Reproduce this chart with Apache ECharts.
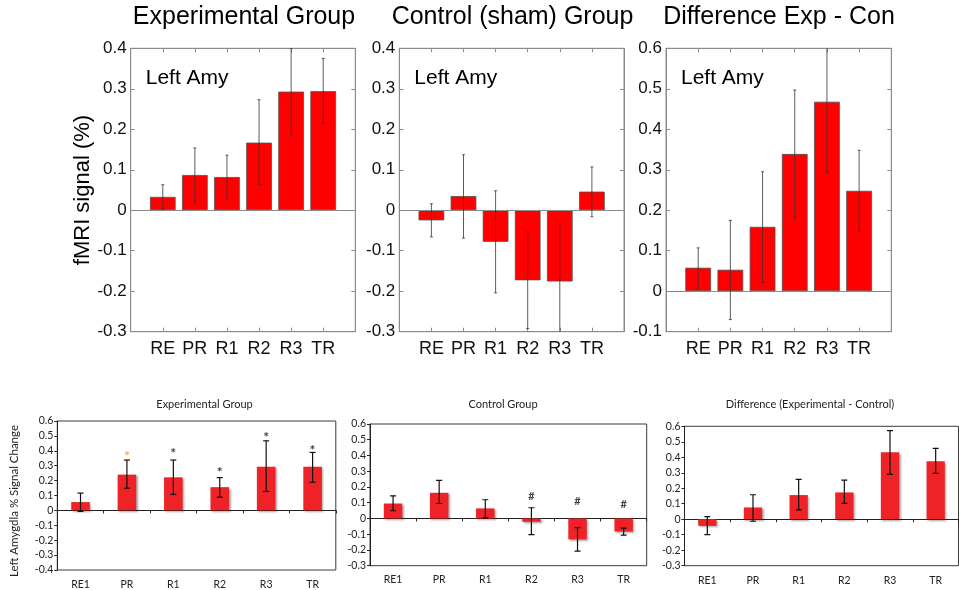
<!DOCTYPE html>
<html><head><meta charset="utf-8">
<script src="https://cdn.jsdelivr.net/npm/echarts@6/dist/echarts.min.js"></script>
<style>html,body{margin:0;padding:0;background:#fff}#c{width:959px;height:590px}</style>
</head><body><div id="c"></div>
<script>
// ---------- data ----------
const topCats = ['RE', 'PR', 'R1', 'R2', 'R3', 'TR'];
const botCats = ['RE1', 'PR', 'R1', 'R2', 'R3', 'TR'];

const topTitles = ['Experimental Group', 'Control (sham) Group', 'Difference Exp - Con'];
const topRegionLabel = 'Left Amy';
const topYName = 'fMRI signal (%)';

const topExpMean = [0.033, 0.087, 0.082, 0.167, 0.293, 0.294];
const topExpLow  = [0.003, 0.021, 0.028, 0.064, 0.186, 0.214];
const topExpHigh = [0.063, 0.154, 0.136, 0.273, 0.400, 0.375];

const topConMean = [-0.025, 0.035, -0.078, -0.173, -0.176, 0.046];
const topConLow  = [-0.066, -0.069, -0.204, -0.292, -0.310, -0.016];
const topConHigh = [0.016, 0.137, 0.048, -0.053, -0.037, 0.107];

const topDiffMean = [0.058, 0.053, 0.159, 0.339, 0.468, 0.248];
const topDiffLow  = [0.007, -0.070, 0.022, 0.182, 0.293, 0.148];
const topDiffHigh = [0.107, 0.175, 0.295, 0.497, 0.620, 0.348];

const botTitles = ['Experimental Group', 'Control Group', 'Difference (Experimental - Control)'];
const botYName = 'Left Amygdla % Signal Change';

const botExpMean = [0.056, 0.240, 0.222, 0.156, 0.293, 0.293];
const botExpLow  = [-0.007, 0.149, 0.107, 0.089, 0.127, 0.189];
const botExpHigh = [0.116, 0.338, 0.338, 0.220, 0.467, 0.389];
const botExpMarkY = [null, 0.384, 0.404, 0.273, 0.511, 0.420];
const botExpMarkText = ['', '*', '*', '*', '*', '*'];

const botConMean = [0.095, 0.163, 0.064, -0.021, -0.133, -0.083];
const botConLow  = [0.049, 0.095, 0.004, -0.102, -0.208, -0.106];
const botConHigh = [0.144, 0.242, 0.119, 0.068, -0.059, -0.061];
const botConMarkY = [null, null, null, 0.138, 0.106, 0.089];
const botConMarkText = ['', '', '', '#', '#', '#'];

const botDiffMean = [-0.043, 0.076, 0.156, 0.173, 0.432, 0.374];
const botDiffLow  = [-0.099, -0.013, 0.060, 0.102, 0.289, 0.296];
const botDiffHigh = [0.017, 0.158, 0.257, 0.253, 0.572, 0.458];

// ---------- styling / layout ----------
const TOP_FONT = '"Liberation Sans", Arial, sans-serif';
const BOT_FONT = 'Lato, "Open Sans", sans-serif';
const ORANGE_MARK_INDEX = 1; // PR star is orange in the experimental panel

const topPanels = [
  { mean: topExpMean, low: topExpLow, high: topExpHigh, min: -0.3, max: 0.4,
    grid: { left: 130.7, top: 48.3, width: 224.6, height: 283.4 }, titleX: 244 },
  { mean: topConMean, low: topConLow, high: topConHigh, min: -0.3, max: 0.4,
    grid: { left: 399.3, top: 48.3, width: 224.7, height: 283.4 }, titleX: 512.5 },
  { mean: topDiffMean, low: topDiffLow, high: topDiffHigh, min: -0.1, max: 0.6,
    grid: { left: 666, top: 48.3, width: 225.3, height: 283.4 }, titleX: 779 }
];
const botPanels = [
  { mean: botExpMean, low: botExpLow, high: botExpHigh, markY: botExpMarkY, markText: botExpMarkText,
    min: -0.4, max: 0.6, grid: { left: 57.3, top: 421, width: 278.5, height: 151 }, titleX: 204.5, labMargin: 9 },
  { mean: botConMean, low: botConLow, high: botConHigh, markY: botConMarkY, markText: botConMarkText,
    min: -0.3, max: 0.6, grid: { left: 370, top: 424, width: 276.7, height: 141.7 }, titleX: 503, labMargin: 8 },
  { mean: botDiffMean, low: botDiffLow, high: botDiffHigh, markY: null, markText: null,
    min: -0.3, max: 0.6, grid: { left: 684.5, top: 426.3, width: 274, height: 139.4 }, titleX: 810, labMargin: 9 }
];

function errRender(color, lw, capHW) {
  return function (params, api) {
    const x = api.value(0), lo = api.value(1), hi = api.value(2);
    const p1 = api.coord([x, lo]);
    const p2 = api.coord([x, hi]);
    const st = { stroke: color, lineWidth: lw };
    return {
      type: 'group', children: [
        { type: 'line', shape: { x1: p1[0], y1: p1[1], x2: p2[0], y2: p2[1] }, style: st },
        { type: 'line', shape: { x1: p1[0] - capHW, y1: p1[1], x2: p1[0] + capHW, y2: p1[1] }, style: st },
        { type: 'line', shape: { x1: p2[0] - capHW, y1: p2[1], x2: p2[0] + capHW, y2: p2[1] }, style: st }
      ]
    };
  };
}

const grids = [], xAxes = [], yAxes = [], series = [], graphics = [];
let xi = 0, yi = 0;

topPanels.forEach((p, g) => {
  grids.push(Object.assign({ show: true, borderColor: '#8a8a8a', borderWidth: 1, backgroundColor: 'transparent' }, p.grid));
  const padded = [''].concat(topCats, ['']);
  const xb = xi++;
  xAxes.push({ gridIndex: g, type: 'category', data: padded, boundaryGap: false, position: 'bottom',
    axisLine: { onZero: false, lineStyle: { color: '#8a8a8a' } },
    axisTick: { inside: true, length: 4, interval: 0, lineStyle: { color: '#8a8a8a' } },
    axisLabel: { interval: 0, margin: 8, fontSize: 18, color: '#111', fontFamily: TOP_FONT },
    splitLine: { show: false } });
  xi++;
  xAxes.push({ gridIndex: g, type: 'category', data: padded, boundaryGap: false, position: 'top',
    axisLine: { onZero: false, lineStyle: { color: '#8a8a8a' } },
    axisTick: { inside: true, length: 4, interval: 0, lineStyle: { color: '#8a8a8a' } },
    axisLabel: { show: false }, splitLine: { show: false } });
  const yl = yi++;
  yAxes.push({ gridIndex: g, type: 'value', min: p.min, max: p.max, interval: 0.1, position: 'left',
    axisLine: { show: true, lineStyle: { color: '#8a8a8a' } },
    axisTick: { show: true, inside: true, length: 4, lineStyle: { color: '#8a8a8a' } },
    axisLabel: { margin: 4, fontSize: 17, color: '#111', fontFamily: TOP_FONT },
    splitLine: { show: false } });
  yi++;
  yAxes.push({ gridIndex: g, type: 'value', min: p.min, max: p.max, interval: 0.1, position: 'right',
    axisLine: { show: true, lineStyle: { color: '#8a8a8a' } },
    axisTick: { show: true, inside: true, length: 4, lineStyle: { color: '#8a8a8a' } },
    axisLabel: { show: false }, splitLine: { show: false } });

  series.push({ type: 'bar', xAxisIndex: xb, yAxisIndex: yl, barWidth: '80%',
    data: p.mean.map((v, i) => [i + 1, v]),
    itemStyle: { color: '#ff0000', borderColor: '#505050', borderWidth: 0.8 },
    markLine: { silent: true, symbol: ['none', 'none'], label: { show: false },
      lineStyle: { color: '#8a8a8a', type: 'solid', width: 1 }, data: [{ yAxis: 0 }] } });
  series.push({ type: 'custom', xAxisIndex: xb, yAxisIndex: yl, clip: true, z: 5,
    renderItem: errRender('#333', 0.8, 1.5),
    encode: { x: 0, y: [1, 2] },
    data: p.low.map((l, i) => [i + 1, l, p.high[i]]) });

  graphics.push({ type: 'text', x: p.titleX, y: 17,
    style: { text: topTitles[g], font: '25px ' + TOP_FONT, fill: '#000', align: 'center', verticalAlign: 'middle',
      textAlign: 'center', textVerticalAlign: 'middle' } });
  graphics.push({ type: 'text', x: p.grid.left + 15, y: 78,
    style: { text: topRegionLabel, font: '21px ' + TOP_FONT, fill: '#000', align: 'left', verticalAlign: 'middle',
      textAlign: 'left', textVerticalAlign: 'middle' } });
});

graphics.push({ type: 'text', x: 83, y: 190, rotation: Math.PI / 2,
  style: { text: topYName, font: '22px ' + TOP_FONT, fill: '#000', align: 'center', verticalAlign: 'middle',
    textAlign: 'center', textVerticalAlign: 'middle' } });

botPanels.forEach((p, k) => {
  const g = grids.length;
  grids.push(Object.assign({ show: true, borderColor: '#3a3a3a', borderWidth: 1, backgroundColor: 'transparent' }, p.grid));
  const xb = xi++;
  xAxes.push({ gridIndex: g, type: 'category', data: botCats, boundaryGap: true, position: 'bottom',
    axisLine: { show: false, onZero: false }, axisTick: { show: false },
    axisLabel: { interval: 0, margin: p.labMargin, fontSize: 10.5, color: '#222', fontFamily: BOT_FONT },
    splitLine: { show: false } });
  xi++;
  xAxes.push({ gridIndex: g, type: 'category', data: botCats, boundaryGap: true, position: 'top',
    axisLine: { show: true, onZero: true, lineStyle: { color: '#222', width: 1 } },
    axisTick: { show: true, inside: true, length: 3, lineStyle: { color: '#222' } },
    axisLabel: { show: false }, splitLine: { show: false } });
  const yl = yi++;
  yAxes.push({ gridIndex: g, type: 'value', min: p.min, max: p.max, interval: 0.1, position: 'left',
    axisLine: { show: true, lineStyle: { color: '#222' } },
    axisTick: { show: true, inside: false, length: 3, lineStyle: { color: '#222' } },
    axisLabel: { margin: 4, fontSize: 10.5, color: '#222', fontFamily: BOT_FONT },
    splitLine: { show: false } });

  series.push({ type: 'bar', xAxisIndex: xb, yAxisIndex: yl, barWidth: '40%',
    data: p.mean,
    itemStyle: { color: '#ee2227', shadowColor: 'rgba(0,0,0,0.35)', shadowBlur: 2, shadowOffsetX: 1.5, shadowOffsetY: 1.5 } });
  series.push({ type: 'custom', xAxisIndex: xb, yAxisIndex: yl, clip: true, z: 5,
    renderItem: errRender('#111', 1.2, 3),
    encode: { x: 0, y: [1, 2] },
    data: p.low.map((l, i) => [i, l, p.high[i]]) });
  if (p.markY) {
    const md = [];
    p.markY.forEach((v, i) => {
      if (v === null) return;
      const isStar = p.markText[i] === '*';
      md.push({ value: [i, v], name: p.markText[i],
        label: { color: (k === 0 && i === ORANGE_MARK_INDEX) ? '#f7941d' : '#111',
          fontSize: isStar ? 14 : 11, offset: [0, isStar ? 3 : 0] } });
    });
    series.push({ type: 'scatter', xAxisIndex: xb, yAxisIndex: yl, symbol: 'circle', symbolSize: 2,
      itemStyle: { color: 'rgba(0,0,0,0)' }, z: 6, silent: true,
      label: { show: true, position: 'inside', formatter: (d) => d.name, fontWeight: 'bold', fontFamily: BOT_FONT },
      data: md });
  }
  graphics.push({ type: 'text', x: p.titleX, y: 404,
    style: { text: botTitles[k], font: '11px ' + BOT_FONT, fill: '#222', align: 'center', verticalAlign: 'middle',
      textAlign: 'center', textVerticalAlign: 'middle' } });
});

graphics.push({ type: 'text', x: 14, y: 501, rotation: Math.PI / 2,
  style: { text: botYName, font: '11.5px ' + BOT_FONT, fill: '#222', align: 'center', verticalAlign: 'middle',
    textAlign: 'center', textVerticalAlign: 'middle' } });

const chart = echarts.init(document.getElementById('c'), null, { renderer: 'canvas' });
chart.setOption({
  animation: false,
  backgroundColor: '#fff',
  grid: grids, xAxis: xAxes, yAxis: yAxes, series: series, graphic: graphics
});
</script></body></html>
